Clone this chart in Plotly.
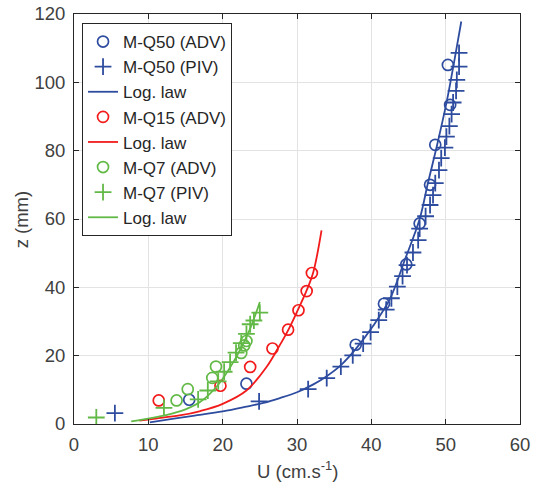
import plotly.graph_objects as go

# ---- data ----
q50_adv_u = [15.5, 23.2, 37.9, 41.7, 44.7, 46.5, 47.9, 48.6, 50.6, 50.3]
q50_adv_z = [7.1, 11.8, 23.2, 35.2, 46.7, 58.7, 70.0, 81.7, 93.4, 105.1]

q50_piv_u = [5.5, 24.9, 31.5, 34.0, 35.9, 37.5, 38.9, 39.9, 41.0, 42.0, 42.7, 43.5,
             44.2, 44.8, 45.6, 46.3, 46.5, 47.3, 47.9, 48.3, 48.6, 49.1, 49.4, 49.9,
             50.1, 50.5, 50.8, 51.0, 51.4, 51.5, 51.8, 51.8]
q50_piv_z = [3.2, 6.6, 10.2, 13.4, 16.8, 20.1, 23.5, 26.9, 30.4, 33.5, 36.8, 40.2,
             43.3, 46.5, 50.2, 53.8, 57.2, 60.8, 64.1, 67.0, 70.5, 74.3, 77.8, 80.9,
             84.1, 87.2, 90.7, 94.1, 97.5, 100.7, 104.6, 108.6]

q50_log_u = [10.2, 13.0, 16.0, 20.0, 23.2, 25.5, 27.7, 30.0, 32.2, 34.0, 35.8, 38.0,
             40.2, 42.5, 44.5, 46.5, 47.6, 48.8, 50.1, 51.1, 52.1]
q50_log_z = [0.5, 1.4, 2.4, 3.7, 5.1, 6.2, 7.6, 9.3, 11.6, 14.0, 17.0, 22.2,
             28.6, 36.6, 48.0, 60.0, 70.4, 81.2, 93.9, 105.5, 117.8]

q15_adv_u = [11.4, 19.7, 23.7, 26.7, 28.8, 30.2, 31.3, 32.0]
q15_adv_z = [6.9, 11.2, 16.7, 22.1, 27.6, 33.3, 38.9, 44.2]

q15_log_u = [8.8, 11.0, 14.2, 17.0, 20.0, 23.2, 25.9, 27.4, 28.8, 30.1, 31.3, 32.2, 33.3]
q15_log_z = [1.0, 1.6, 2.5, 3.8, 5.9, 9.8, 16.7, 22.0, 27.4, 33.3, 39.1, 44.5, 56.7]

q7_adv_u = [13.8, 15.3, 18.6, 19.1, 22.5, 22.9, 23.2]
q7_adv_z = [6.9, 10.2, 13.5, 16.8, 20.8, 23.0, 24.3]

q7_piv_u = [3.0, 12.1, 16.7, 18.0, 19.4, 20.2, 21.0, 21.8, 22.5, 23.2, 23.7, 24.2, 25.0]
q7_piv_z = [1.9, 4.7, 7.2, 9.8, 12.5, 15.3, 18.1, 20.9, 23.7, 26.4, 29.2, 30.3, 32.6]

q7_log_u = [7.7, 10.0, 12.5, 15.0, 17.0, 19.4, 21.8, 23.6, 25.0]
q7_log_z = [0.8, 1.6, 2.7, 4.3, 6.5, 11.5, 19.5, 27.4, 35.7]

x_ticks = [0, 10, 20, 30, 40, 50, 60]
y_ticks = [0, 20, 40, 60, 80, 100, 120]

x_title = "U (cm.s<sup>-1</sup>)"
y_title = "z (mm)"

BLUE = "#2E4C9F"
RED = "#F21A1A"
GREEN = "#62B946"
FONT = "Liberation Sans, Arial, sans-serif"
FS = 18.5
LFS = 17

fig = go.Figure()


def markers(u, z, name, color, sym):
    if sym == "o":
        m = dict(symbol="circle-open", size=11, color=color, line=dict(width=1.7, color=color))
    else:
        m = dict(symbol="cross-thin-open", size=12, color=color, line=dict(width=1.8, color=color))
    fig.add_trace(go.Scatter(x=u, y=z, mode="markers", name=name, marker=m))


def line(u, z, color):
    fig.add_trace(go.Scatter(x=u, y=z, mode="lines", name="Log. law",
                             line=dict(color=color, width=1.8, shape="spline", smoothing=1.0)))


markers(q50_adv_u, q50_adv_z, "M-Q50 (ADV)", BLUE, "o")
markers(q50_piv_u, q50_piv_z, "M-Q50 (PIV)", BLUE, "+")
line(q50_log_u, q50_log_z, BLUE)
markers(q15_adv_u, q15_adv_z, "M-Q15 (ADV)", RED, "o")
line(q15_log_u, q15_log_z, RED)
markers(q7_adv_u, q7_adv_z, "M-Q7 (ADV)", GREEN, "o")
markers(q7_piv_u, q7_piv_z, "M-Q7 (PIV)", GREEN, "+")
line(q7_log_u, q7_log_z, GREEN)

axis_common = dict(
    showline=True, linecolor="#262626", linewidth=1, mirror="ticks",
    ticks="inside", ticklen=5, tickcolor="#262626",
    showgrid=True, gridcolor="#E3E3E3", gridwidth=1, zeroline=False,
    tickfont=dict(family=FONT, size=FS, color="#404040"),
    automargin=False,
)

fig.update_layout(
    width=533, height=488,
    margin=dict(l=74, r=13, t=14, b=64),
    paper_bgcolor="white", plot_bgcolor="white",
    font=dict(family=FONT, color="#404040"),
    showlegend=True,
    legend=dict(x=0.018, y=0.978, xanchor="left", yanchor="top",
                bgcolor="white", bordercolor="#262626", borderwidth=1,
                font=dict(family=FONT, size=LFS, color="#262626"),
                tracegroupgap=0, traceorder="normal"),
    xaxis=dict(range=[0, 60], tickvals=x_ticks, ticklabelstandoff=4, **axis_common),
    yaxis=dict(range=[0, 120], tickvals=y_ticks, ticklabelstandoff=4, **axis_common),
    annotations=[
        dict(text=x_title, xref="paper", yref="paper", x=0.5, y=-0.113,
             xanchor="center", yanchor="middle", showarrow=False,
             font=dict(family=FONT, size=FS, color="#404040")),
        dict(text=y_title, xref="paper", yref="paper", x=-0.118, y=0.5,
             xanchor="center", yanchor="middle", showarrow=False, textangle=-90,
             font=dict(family=FONT, size=FS, color="#404040")),
    ],
)

fig.write_html("out.html")
